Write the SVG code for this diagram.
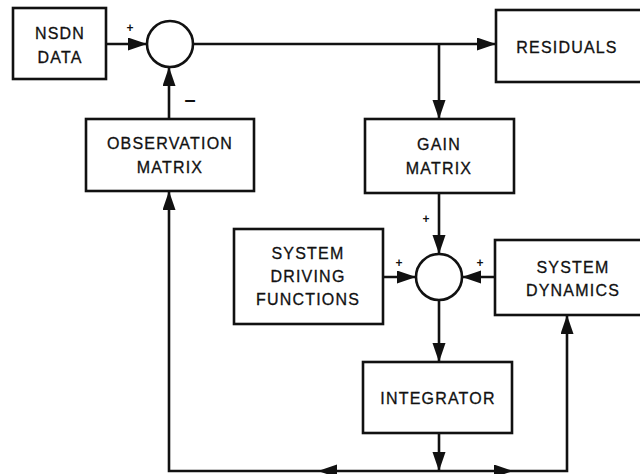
<svg xmlns="http://www.w3.org/2000/svg" width="640" height="474" viewBox="0 0 640 474">
  <style>
    .box { fill: #fff; stroke: #111; stroke-width: 2.6; }
    .sum { fill: #fff; stroke: #111; stroke-width: 2.6; }
    .lbl { font-family: "Liberation Sans", Arial, sans-serif; font-size: 16px; letter-spacing: 1.2px; fill: #111; stroke: #111; stroke-width: 0.3; text-anchor: middle; dominant-baseline: central; }
    .sign { font-family: "Liberation Sans", Arial, sans-serif; font-size: 12px; font-weight: bold; fill: #111; text-anchor: middle; dominant-baseline: central; }
    .minus { font-size: 20px; }
    .wire { fill: none; stroke: #111; stroke-width: 2.6; }
    .arr { marker-end: url(#head); }
  </style>
  <defs>
    <marker id="head" markerUnits="userSpaceOnUse" markerWidth="20" markerHeight="14" refX="19" refY="6.5" orient="auto">
      <path d="M0,0 L19,6.5 L0,13 z" fill="#111"/>
    </marker>
  </defs>
  <rect width="640" height="474" fill="#fff"/>

  <!-- signal lines between blocks -->
  <g id="connectors">
    <path class="wire arr" d="M106,44 H147"/>
    <path class="wire arr" d="M193,44 H496"/>
    <path class="wire arr" d="M439,44 V119"/>
    <path class="wire arr" d="M169,119 V67"/>
    <path class="wire arr" d="M439,193 V254"/>
    <path class="wire arr" d="M383,277 H416"/>
    <path class="wire arr" d="M495,277 H462"/>
    <path class="wire arr" d="M439,300 V362"/>
    <path class="wire arr" d="M439,433 V471"/>
    <path class="wire arr" d="M439,471 H318"/>
    <path class="wire arr" d="M318,471 H169 V191"/>
    <path class="wire arr" d="M439,471 H513"/>
    <path class="wire arr" d="M513,471 H567 V315"/>
    <text class="sign" x="130" y="28">+</text>
    <text class="sign minus" x="190" y="99">–</text>
    <text class="sign" x="426" y="219">+</text>
    <text class="sign" x="399" y="263">+</text>
    <text class="sign" x="480" y="263">+</text>
  </g>

  <g id="nsdn-data">
    <rect class="box" x="13" y="8" width="93" height="71"/>
    <text class="lbl" x="60" y="33">NSDN</text>
    <text class="lbl" x="60" y="57">DATA</text>
  </g>

  <g id="sum-upper">
    <circle class="sum" cx="170" cy="44" r="23"/>
  </g>

  <g id="residuals">
    <rect class="box" x="496" y="10" width="150" height="72"/>
    <text class="lbl" x="567" y="47">RESIDUALS</text>
  </g>

  <g id="observation-matrix">
    <rect class="box" x="86" y="119" width="168" height="72"/>
    <text class="lbl" x="170" y="143">OBSERVATION</text>
    <text class="lbl" x="170" y="167">MATRIX</text>
  </g>

  <g id="gain-matrix">
    <rect class="box" x="365" y="119" width="149" height="74"/>
    <text class="lbl" x="439" y="144">GAIN</text>
    <text class="lbl" x="439" y="168">MATRIX</text>
  </g>

  <g id="system-driving-functions">
    <rect class="box" x="234" y="229" width="149" height="95"/>
    <text class="lbl" x="308" y="253">SYSTEM</text>
    <text class="lbl" x="308" y="276">DRIVING</text>
    <text class="lbl" x="308" y="299">FUNCTIONS</text>
  </g>

  <g id="sum-lower">
    <circle class="sum" cx="439" cy="277" r="23"/>
  </g>

  <g id="system-dynamics">
    <rect class="box" x="495" y="240" width="150" height="75"/>
    <text class="lbl" x="573" y="267">SYSTEM</text>
    <text class="lbl" x="573" y="290">DYNAMICS</text>
  </g>

  <g id="integrator">
    <rect class="box" x="363" y="362" width="149" height="71"/>
    <text class="lbl" x="438" y="398">INTEGRATOR</text>
  </g>
</svg>
